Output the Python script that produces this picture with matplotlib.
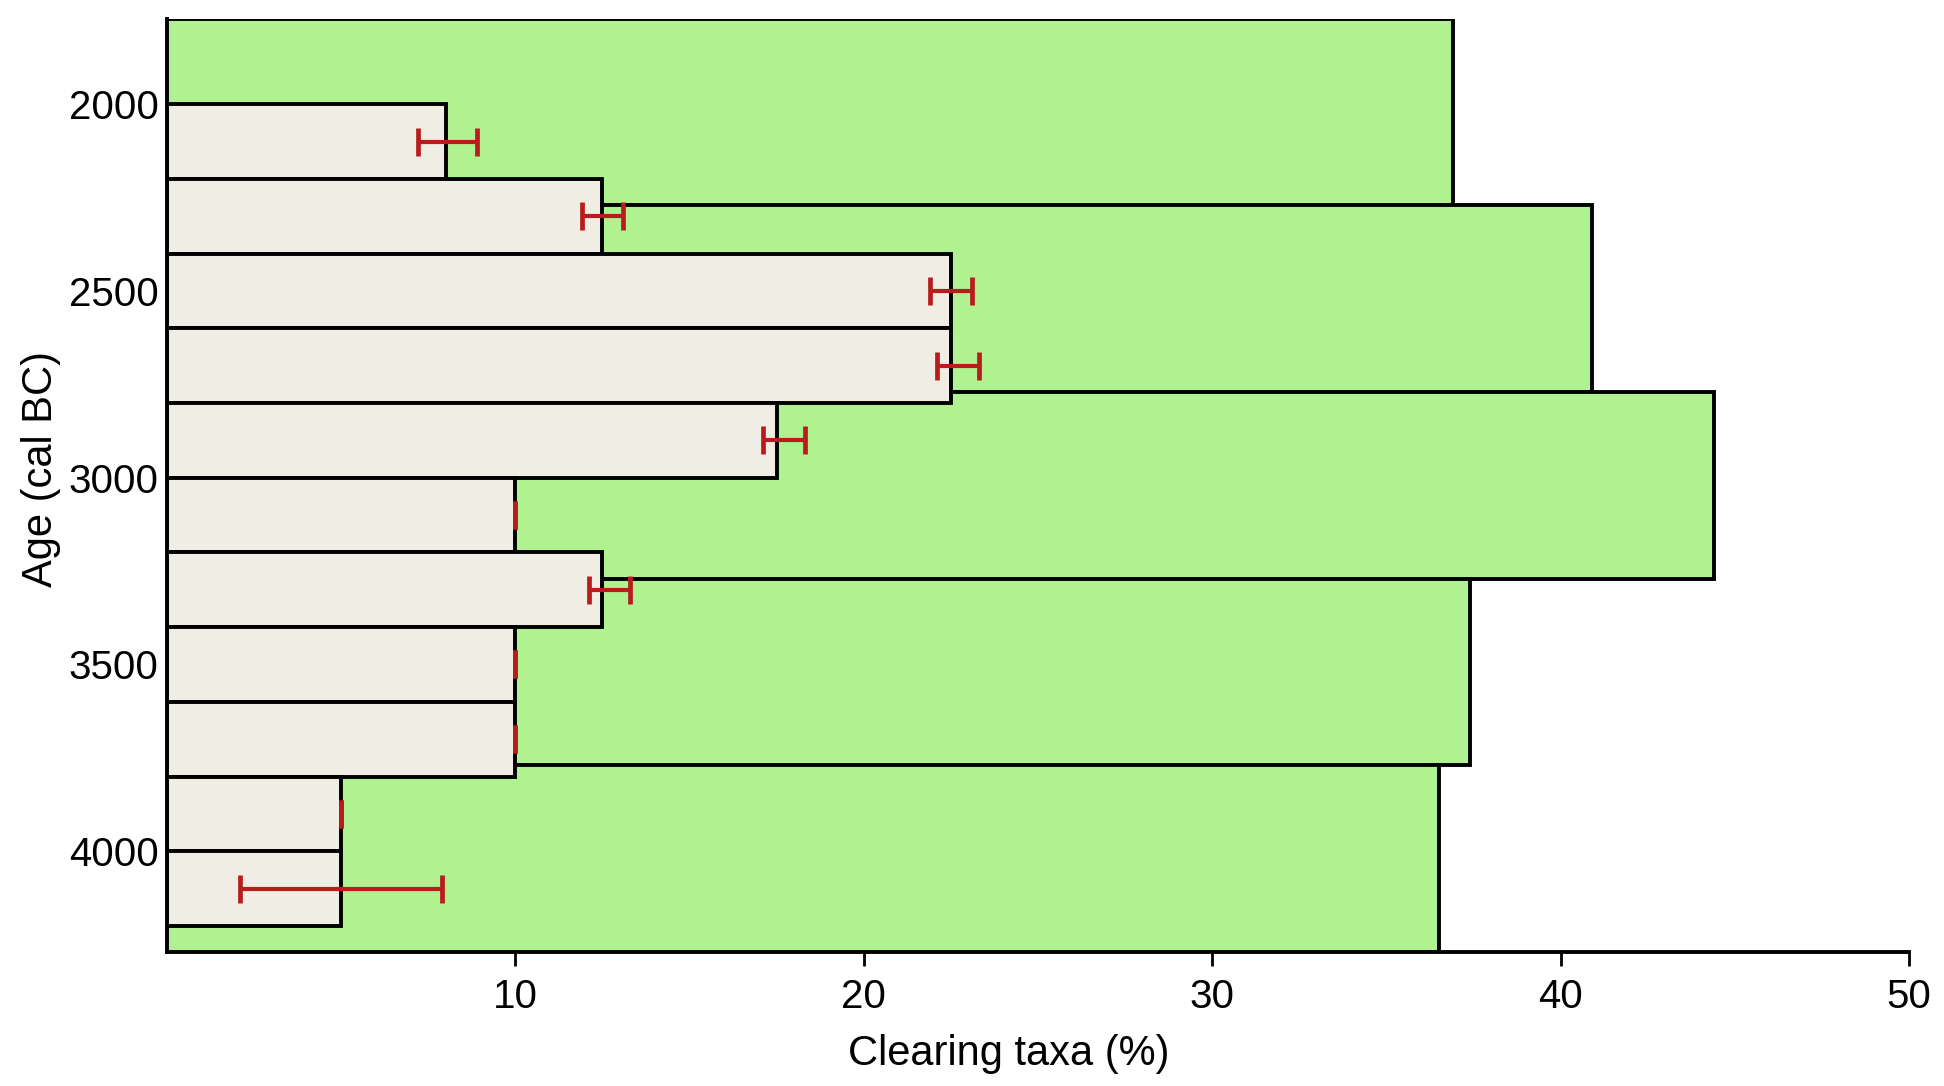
import matplotlib.pyplot as plt

plt.rcParams["font.family"] = ["Liberation Sans", "DejaVu Sans"]

# 500-year blocks (green): lower edge of each block, cal BC
block_start = [1770, 2270, 2770, 3270, 3770]
block_pct = [36.9, 40.9, 44.4, 37.4, 36.5]

# 200-year bins (beige)
bin_start = [2000, 2200, 2400, 2600, 2800, 3000, 3200, 3400, 3600, 3800, 4000]
bin_pct = [8.0, 12.5, 22.5, 22.5, 17.5, 10.0, 12.5, 10.0, 10.0, 5.0, 5.0]
err_low = [7.2, 11.9, 21.9, 22.1, 17.1, 10.0, 12.1, 10.0, 10.0, 5.0, 2.1]
err_high = [8.9, 13.1, 23.1, 23.3, 18.3, 10.0, 13.3, 10.0, 10.0, 5.0, 7.9]

BLOCK_W = 500
BIN_W = 200
GREEN = "#b0f290"
BEIGE = "#f0ede4"
RED = "#b81c1c"
EDGE_LW = 2.8


def main() -> None:
    fig = plt.figure(figsize=(19.44, 10.86), dpi=100)
    ax = fig.add_axes([0.0859, 0.1234, 0.8961, 0.8595])

    ax.barh([s + BLOCK_W / 2 for s in block_start], block_pct, height=BLOCK_W,
            left=0, color=GREEN, edgecolor="black", linewidth=EDGE_LW, zorder=2)
    ax.barh([s + BIN_W / 2 for s in bin_start], bin_pct, height=BIN_W,
            left=0, color=BEIGE, edgecolor="black", linewidth=EDGE_LW, zorder=3)

    centres = [s + BIN_W / 2 for s in bin_start]
    mids = [(lo + hi) / 2 for lo, hi in zip(err_low, err_high)]
    half = [(hi - lo) / 2 for lo, hi in zip(err_low, err_high)]
    ax.errorbar(mids, centres, xerr=half, fmt="none", ecolor=RED,
                elinewidth=3.0, capsize=10, capthick=3.4, zorder=4)

    ax.set_xlim(0, 50)
    ax.set_ylim(block_start[-1] + BLOCK_W, block_start[0])
    ax.set_xticks([10, 20, 30, 40, 50])
    ax.set_yticks([2000, 2500, 3000, 3500, 4000])
    ax.tick_params(axis="x", direction="out", length=10, width=2.0, pad=9, labelsize=29)
    ax.tick_params(axis="y", length=0, pad=6, labelsize=29)

    for side in ("top", "right"):
        ax.spines[side].set_visible(False)
    for side in ("left", "bottom"):
        ax.spines[side].set_linewidth(EDGE_LW)
        ax.spines[side].set_zorder(5)

    ax.set_xlabel("Clearing taxa (%)", fontsize=30)
    ax.xaxis.set_label_coords(0.483, -0.0875)
    ax.set_ylabel("Age (cal BC)", fontsize=30)
    ax.yaxis.set_label_coords(-0.061, 0.517)

    fig.savefig("out.png", dpi=100)


if __name__ == "__main__":
    main()
